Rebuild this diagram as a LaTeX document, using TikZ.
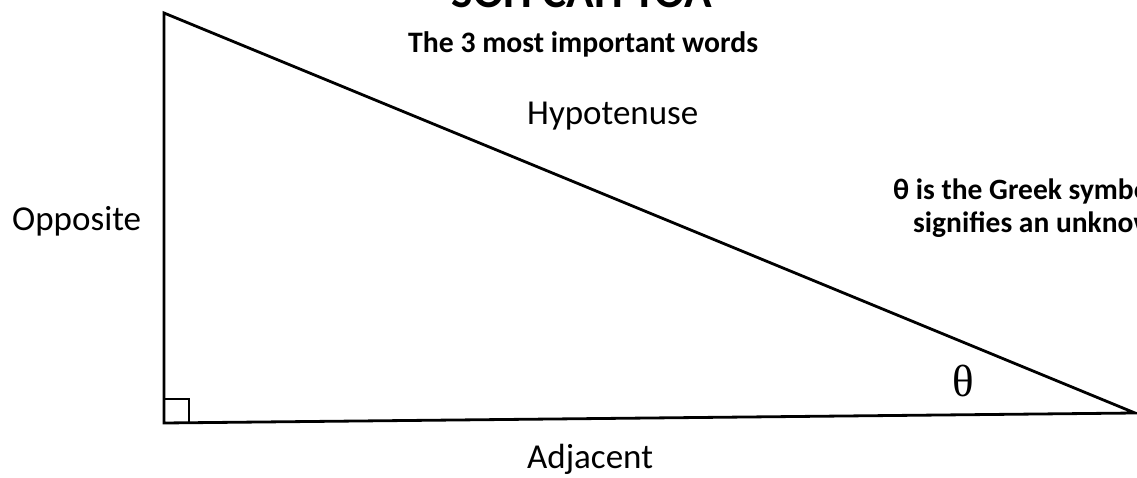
\documentclass[tikz,border=0pt]{standalone}
\usepackage{fontspec}
\setmainfont{Carlito}
\newfontfamily\serifth{Liberation Serif}
\begin{document}
\begin{tikzpicture}[x=1pt,y=1pt,
  lbl/.style={inner sep=0pt,anchor=base west,font=\fontsize{35}{40}\selectfont},
  sub/.style={inner sep=0pt,anchor=base west,font=\fontsize{29.7}{34}\selectfont\bfseries},
  note/.style={inner sep=0pt,anchor=base west,font=\fontsize{29.5}{34}\selectfont\bfseries},
  edge/.style={line width=2.8pt,line join=miter}]
\useasboundingbox (0,0) rectangle (1137,477);
\clip (0,0) rectangle (1137,477);
\fill[white] (0,0) rectangle (1137,477);
% vertices
\coordinate (A) at (164,464);
\coordinate (B) at (164,54);
\coordinate (C) at (1135,64);
\draw[edge] (A) -- (B) -- (C) -- cycle;
% right angle marker
\coordinate (R1) at (164,78);
\coordinate (R2) at (189,78);
\coordinate (R3) at (189,54);
\draw[line width=2.4pt] (R1) -- (R2) -- (R3);
% texts
\node[inner sep=0pt,anchor=base,font=\fontsize{45.5}{50}\selectfont\bfseries] (title) at (582,469) {SOH CAH TOA};
\node[sub] (subtitle) at (408,424) {The 3 most important words};
\node[lbl] (hyp) at (527,352) {Hypotenuse};
\node[lbl] (opp) at (12,246) {Opposite};
\node[lbl] (adj) at (527,9) {Adjacent};
\node[inner sep=0pt,anchor=base west,font=\fontsize{45}{50}\selectfont\serifth] (theta) at (952,81) {θ};
\node[note] (note1) at (893,277) {θ is the Greek symbol that};
\node[note] (note2) at (913,244) {signifies an unknown angle};
\end{tikzpicture}
\end{document}
